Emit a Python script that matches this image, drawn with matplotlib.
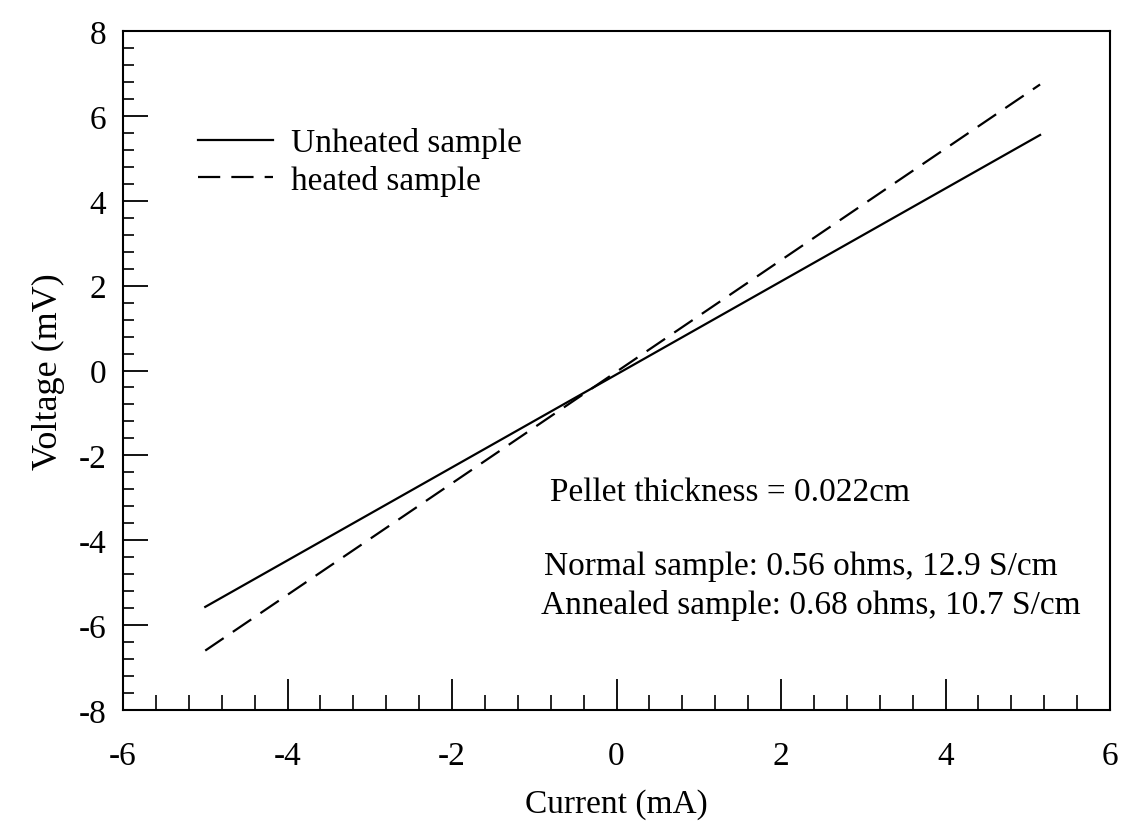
import matplotlib
matplotlib.use("Agg")
import matplotlib.pyplot as plt
from matplotlib.ticker import MultipleLocator

plt.rcParams['font.family'] = ['Liberation Serif', 'DejaVu Serif']
plt.rcParams['axes.unicode_minus'] = False

# Data
current_unheated = [-5.0, 5.15]
voltage_unheated = [-5.57, 5.55]
current_heated = [-5.0, 5.15]
voltage_heated = [-6.6, 6.74]

x_ticks = [-6, -4, -2, 0, 2, 4, 6]
y_ticks = [-8, -6, -4, -2, 0, 2, 4, 6, 8]

legend_labels = ["Unheated sample", "heated sample"]
note_lines = ["Pellet thickness = 0.022cm",
              "Normal sample: 0.56 ohms, 12.9 S/cm",
              "Annealed sample: 0.68 ohms, 10.7 S/cm"]

FS = 24

fig = plt.figure(figsize=(11.22, 8.29), dpi=100)
ax = fig.add_axes([123/1122, 1 - 711/829, (1110-123)/1122, (711-32)/829])

ax.plot(current_unheated, voltage_unheated, color='black', lw=1.6,
        label=legend_labels[0])
ax.plot(current_heated, voltage_heated, color='black', lw=1.6,
        linestyle=(0, (10, 5)), label=legend_labels[1])

ax.set_xlim(-6, 6)
ax.set_ylim(-8, 8)
ax.set_xticks(x_ticks)
ax.set_yticks(y_ticks)
ax.xaxis.set_minor_locator(MultipleLocator(0.4))
ax.yaxis.set_minor_locator(MultipleLocator(0.4))

ax.tick_params(axis='x', which='major', direction='in', length=22, width=1.3,
               labelsize=FS, pad=22, top=False)
ax.tick_params(axis='x', which='minor', direction='in', length=11, width=1.2,
               top=False)
ax.tick_params(axis='y', which='major', direction='in', length=18, width=1.3,
               labelsize=FS, pad=12, right=False)
ax.tick_params(axis='y', which='minor', direction='in', length=8, width=1.2,
               right=False)
for s in ax.spines.values():
    s.set_linewidth(1.5)

ax.set_xlabel("Current (mA)", fontsize=FS, labelpad=12)
ax.set_ylabel("Voltage (mV)", fontsize=26, labelpad=10)

ax.legend(loc='upper left', bbox_to_anchor=(0.062, 0.878), frameon=False,
          fontsize=FS, handlelength=2.25, handletextpad=0.55,
          labelspacing=0.2, borderaxespad=0)

ax.text(0.433, 0.321, note_lines[0], transform=ax.transAxes, fontsize=FS,
        va='center', ha='left')
ax.text(0.427, 0.212, note_lines[1], transform=ax.transAxes, fontsize=FS,
        va='center', ha='left')
ax.text(0.424, 0.156, note_lines[2], transform=ax.transAxes, fontsize=FS,
        va='center', ha='left')

fig.savefig("out.png", dpi=100)
